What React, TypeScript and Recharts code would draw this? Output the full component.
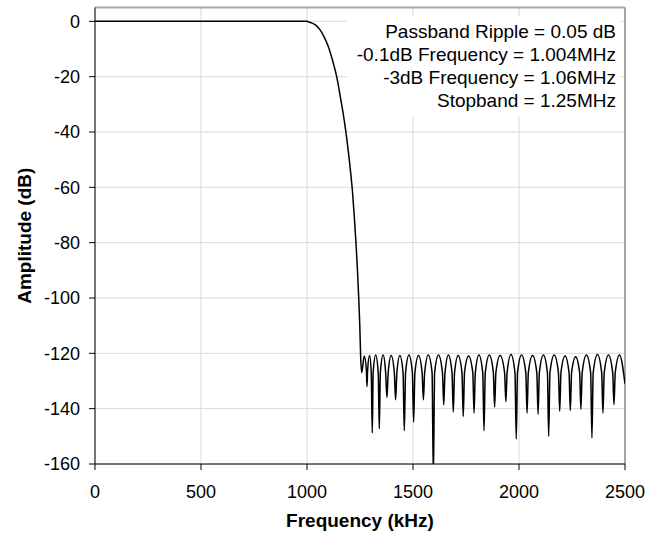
import {
  CartesianGrid,
  Label,
  Line,
  LineChart,
  ReferenceLine,
  XAxis,
  YAxis,
} from "recharts";

// [frequency kHz, amplitude dB]
const PASSBAND: [number, number][] = [
  [0, 0],
  [250, 0],
  [500, 0],
  [750, 0],
  [1000, 0],
];

const TRANSITION: [number, number][] = [
  [1004, -0.1],
  [1020, -0.5],
  [1038, -1.2],
  [1061, -3],
  [1080, -5.5],
  [1100, -9],
  [1120, -14],
  [1140, -20],
  [1160, -28.5],
  [1175, -35.5],
  [1187, -42],
  [1198, -49],
  [1207, -55.5],
  [1215, -62],
  [1223, -70.5],
  [1231, -80],
  [1238, -90],
  [1244, -100],
  [1249, -110],
  [1253, -121],
];

const STOPBAND: [number, number][] = [
  [1258, -127], [1270, -121], [1280, -126], [1283, -132], [1286, -126],
  [1295, -120.8], [1303, -127], [1308, -148.8], [1312, -127],
  [1324, -120.6], [1336, -127], [1341, -147.3], [1346, -127],
  [1359, -120.6], [1371, -127], [1377, -136], [1383, -127],
  [1397, -120.8], [1412, -127], [1418, -136.8], [1424, -127],
  [1438, -120.8], [1453, -127], [1459, -148], [1465, -127],
  [1481, -120.6], [1497, -127], [1503, -144.8], [1509, -127],
  [1526, -120.8], [1543, -127], [1549, -136.8], [1555, -127],
  [1572, -120.6], [1590, -127], [1596, -165], [1602, -127],
  [1620, -120.6], [1639, -127], [1645, -138.6], [1651, -127],
  [1667, -120.6], [1684, -127], [1690, -141.2], [1696, -127],
  [1713, -120.8], [1731, -127], [1737, -142.8], [1743, -127],
  [1762, -121], [1782, -127], [1788, -141.6], [1794, -127],
  [1811, -120.6], [1829, -127], [1835, -148], [1841, -127],
  [1860, -120.6], [1879, -127], [1885, -139.4], [1891, -127],
  [1911, -120.8], [1932, -127], [1938, -137.5], [1944, -127],
  [1962, -120.4], [1981, -127], [1987, -151], [1993, -127],
  [2012, -120.6], [2032, -127], [2038, -141.6], [2044, -127],
  [2064, -120.8], [2084, -127], [2090, -142], [2096, -127],
  [2115, -120.6], [2134, -127], [2140, -150], [2146, -127],
  [2166, -120.6], [2186, -127], [2192, -140.9], [2198, -127],
  [2217, -121], [2236, -127], [2242, -140.7], [2248, -127],
  [2267, -121.2], [2286, -127], [2292, -140.2], [2298, -127],
  [2318, -120.6], [2338, -127], [2344, -150.6], [2350, -127],
  [2370, -120.4], [2390, -127], [2396, -141.6], [2402, -127],
  [2422, -120.6], [2442, -127], [2448, -138.5], [2454, -127],
  [2474, -120.6], [2500, -131],
];

const X_TICKS = [0, 500, 1000, 1500, 2000, 2500];
const Y_TICKS = [-160, -140, -120, -100, -80, -60, -40, -20, 0];

const NOTES = [
  "Passband Ripple = 0.05 dB",
  "-0.1dB Frequency = 1.004MHz",
  "-3dB Frequency = 1.06MHz",
  "Stopband = 1.25MHz",
];

const data = [...PASSBAND, ...TRANSITION, ...STOPBAND].map(([f, a]) => ({
  f,
  a,
}));

const FONT = "'Liberation Sans', Arial, sans-serif";

export default function App() {
  return (
    <div
      style={{
        position: "absolute",
        left: 0,
        top: 0,
        width: 662,
        height: 533,
        background: "#fff",
        fontFamily: FONT,
      }}
    >
      <LineChart
        width={662}
        height={533}
        data={data}
        margin={{ top: 7.5, right: 37, bottom: 0, left: 0 }}
      >
        <CartesianGrid stroke="#d9d9d9" />
        <XAxis
          type="number"
          dataKey="f"
          domain={[0, 2500]}
          ticks={X_TICKS}
          allowDataOverflow
          height={69}
          tickSize={6}
          tickMargin={15}
          tick={{ fontSize: 18, fill: "#000", fontFamily: FONT }}
          stroke="#000"
        >
          <Label
            value="Frequency (kHz)"
            position="insideBottom"
            offset={6}
            style={{
              fontSize: 19,
              fontWeight: "bold",
              fill: "#000",
              fontFamily: FONT,
            }}
          />
        </XAxis>
        <YAxis
          type="number"
          domain={[-160, 5]}
          ticks={Y_TICKS}
          allowDataOverflow
          width={95}
          tickSize={6}
          tickMargin={9}
          tick={{ fontSize: 18, fill: "#000", fontFamily: FONT }}
          stroke="#000"
        >
          <Label
            value="Amplitude (dB)"
            angle={-90}
            position="insideLeft"
            offset={24}
            style={{
              textAnchor: "middle",
              fontSize: 19,
              fontWeight: "bold",
              fill: "#000",
              fontFamily: FONT,
            }}
          />
        </YAxis>
        <ReferenceLine y={5} stroke="#a6a6a6" strokeWidth={2} />
        <ReferenceLine x={2500} stroke="#a6a6a6" strokeWidth={2} />
        <Line
          type="monotone"
          dataKey="a"
          stroke="#000"
          strokeWidth={1.5}
          dot={false}
          activeDot={false}
          isAnimationActive={false}
        />
      </LineChart>
      <div
        style={{
          position: "absolute",
          left: 347,
          top: 16,
          width: 269,
          paddingRight: 4,
          paddingTop: 3.5,
          paddingBottom: 4,
          background: "#fff",
          textAlign: "right",
          fontSize: 19,
          lineHeight: "23px",
          color: "#000",
          whiteSpace: "nowrap",
        }}
      >
        {NOTES.map((t) => (
          <div key={t}>{t}</div>
        ))}
      </div>
    </div>
  );
}
